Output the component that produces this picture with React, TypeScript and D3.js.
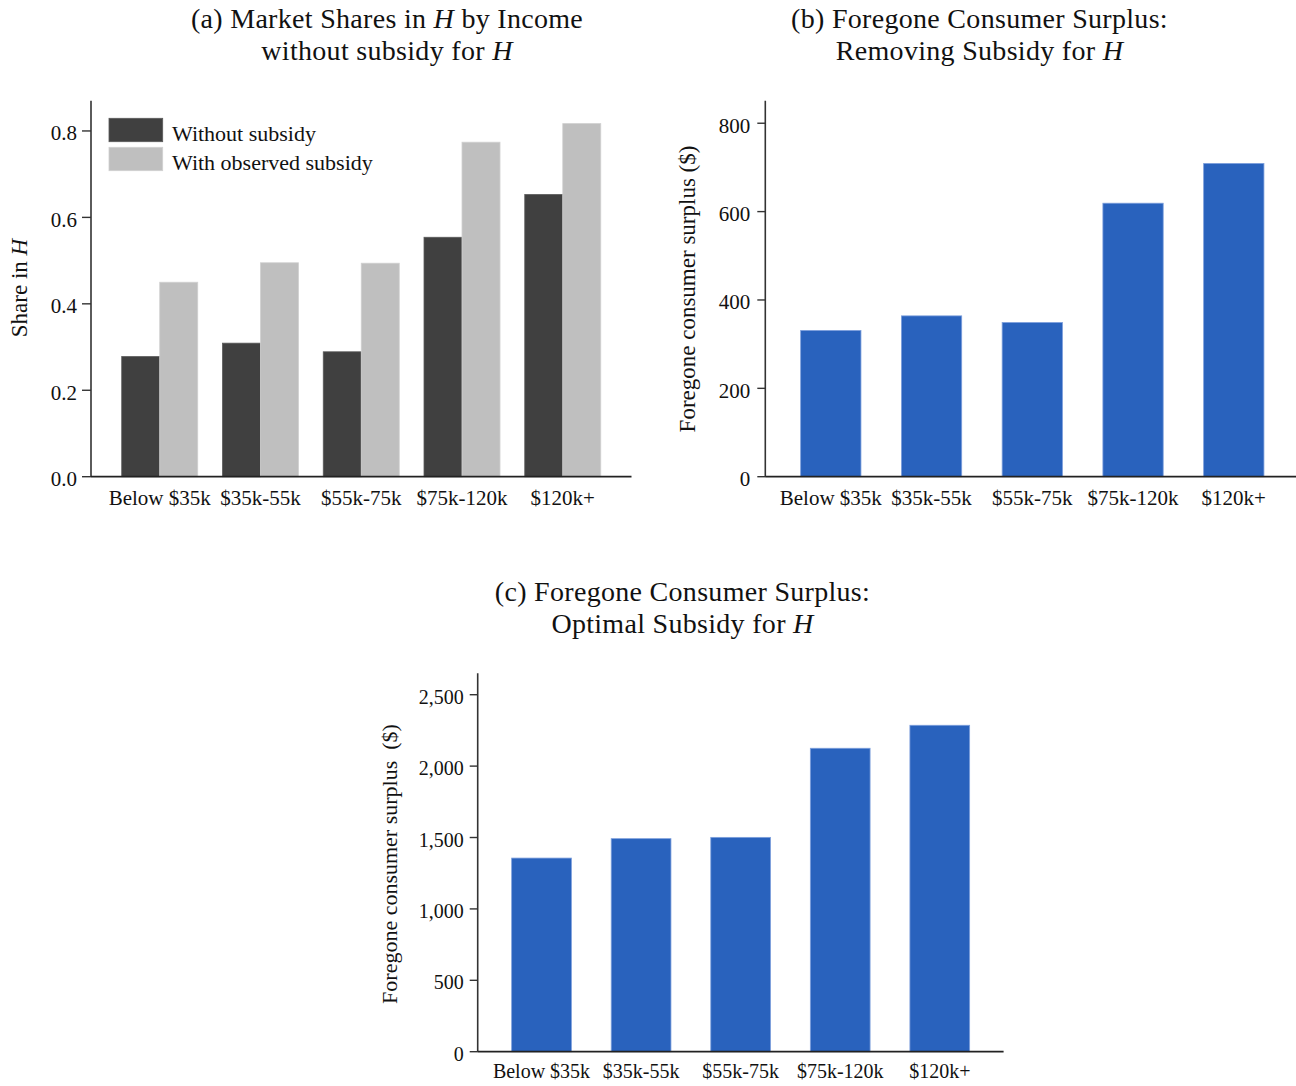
import React from "react";
import * as d3 from "d3";

const categories = ["Below $35k", "$35k-55k", "$55k-75k", "$75k-120k", "$120k+"];
const seriesNames = ["Without subsidy", "With observed subsidy"];
const shareWithout = [0.278, 0.309, 0.289, 0.554, 0.653];
const shareWith = [0.45, 0.495, 0.494, 0.774, 0.817];
const surplusRemoving = [331, 364, 349, 619, 709];
const surplusOptimal = [1356, 1492, 1501, 2125, 2286];
const ticksA = [0, 0.2, 0.4, 0.6, 0.8];
const ticksB = [0, 200, 400, 600, 800];
const ticksC = [0, 500, 1000, 1500, 2000, 2500];

const FONT = "'Liberation Serif', 'Times New Roman', serif";
const DARK = "#404040";
const LIGHT = "#bfbfbf";
const BLUE = "#2962bd";
const AXIS = "#333333";

type YAxisProps = {
  y: d3.ScaleLinear<number, number>;
  x0: number;
  ticks: number[];
  fmt: (v: number) => string;
  fontSize: number;
  tickLen: number;
  gap: number;
};

function YAxis({ y, x0, ticks, fmt, fontSize, tickLen, gap }: YAxisProps) {
  const [r0, r1] = y.range();
  return (
    <g>
      <line x1={x0} x2={x0} y1={r0} y2={r1} stroke={AXIS} strokeWidth={1.6} />
      {ticks.map((t) => (
        <g key={t}>
          <line x1={x0 - tickLen} x2={x0} y1={y(t)} y2={y(t)} stroke={AXIS} strokeWidth={1.4} />
          <text
            x={x0 - tickLen - gap}
            y={y(t)}
            dy="0.45em"
            textAnchor="end"
            fontSize={fontSize}
            fontFamily={FONT}
            fill="#111"
          >
            {fmt(t)}
          </text>
        </g>
      ))}
    </g>
  );
}

type XAxisProps = {
  x: d3.ScaleBand<string>;
  y0: number;
  fontSize: number;
  labelY: number;
};

function XAxis({ x, y0, fontSize, labelY }: XAxisProps) {
  const [r0, r1] = x.range();
  return (
    <g>
      <line x1={r0} x2={r1} y1={y0} y2={y0} stroke="#222" strokeWidth={1.8} />
      {categories.map((c) => (
        <text
          key={c}
          x={(x(c) as number) + x.bandwidth() / 2}
          y={labelY}
          textAnchor="middle"
          fontSize={fontSize}
          fontFamily={FONT}
          fill="#111"
        >
          {c}
        </text>
      ))}
    </g>
  );
}

function Title({ cx, y1, y2, line1, line2, size }: { cx: number; y1: number; y2: number; line1: React.ReactNode; line2: React.ReactNode; size: number }) {
  return (
    <g fontFamily={FONT} fontSize={size} fill="#111" textAnchor="middle" letterSpacing={0.3}>
      <text x={cx} y={y1}>{line1}</text>
      <text x={cx} y={y2}>{line2}</text>
    </g>
  );
}

function YLabel({ x, cy, size, children }: { x: number; cy: number; size: number; children: React.ReactNode }) {
  return (
    <text
      transform={`translate(${x},${cy}) rotate(-90)`}
      textAnchor="middle"
      fontSize={size}
      fontFamily={FONT}
      fill="#111"
      style={{ whiteSpace: "pre" }}
    >
      {children}
    </text>
  );
}

export default function App() {
  // Panel A
  const xA = d3.scaleBand<string>().domain(categories).range([91, 631.5]).paddingInner(0.2457).paddingOuter(0.305);
  const xAInner = d3.scaleBand<string>().domain(seriesNames).range([0, xA.bandwidth()]);
  const yA = d3.scaleLinear().domain([0, 0.87]).range([476.7, 100.7]);
  const seriesA = [shareWithout, shareWith];
  const colorsA = [DARK, LIGHT];

  // Panel B
  const xB = d3.scaleBand<string>().domain(categories).range([765.3, 1299.3]).paddingInner(0.4015).paddingOuter(0.351);
  const yB = d3.scaleLinear().domain([0, 851]).range([476.7, 100.7]);

  // Panel C
  const xC = d3.scaleBand<string>().domain(categories).range([477.7, 1003.6]).paddingInner(0.4).paddingOuter(0.341);
  const yC = d3.scaleLinear().domain([0, 2650]).range([1051.7, 673.3]);

  const fmtA = d3.format(".1f");
  const fmtB = d3.format("d");
  const fmtC = d3.format(",");

  return (
    <svg
      width={1296}
      height={1086}
      style={{ position: "absolute", left: 0, top: 0, background: "#fff" }}
    >
      {/* Titles */}
      <Title
        cx={387}
        y1={28}
        y2={60}
        size={28}
        line1={<>(a) Market Shares in <tspan fontStyle="italic">H</tspan> by Income</>}
        line2={<>without subsidy for <tspan fontStyle="italic">H</tspan></>}
      />
      <Title
        cx={979.5}
        y1={28}
        y2={60}
        size={28}
        line1={<>(b) Foregone Consumer Surplus:</>}
        line2={<>Removing Subsidy for <tspan fontStyle="italic">H</tspan></>}
      />
      <Title
        cx={682.5}
        y1={601}
        y2={633}
        size={28}
        line1={<>(c) Foregone Consumer Surplus:</>}
        line2={<>Optimal Subsidy for <tspan fontStyle="italic">H</tspan></>}
      />

      {/* Panel A */}
      <g>
        {categories.map((c, i) => (
          <g key={c} transform={`translate(${xA(c)},0)`}>
            {seriesA.map((s, j) => (
              <rect
                key={j}
                x={xAInner(seriesNames[j])}
                y={yA(s[i])}
                width={xAInner.bandwidth()}
                height={yA(0) - yA(s[i])}
                fill={colorsA[j]}
                stroke={j === 0 ? "#5a5a5a" : "#d0d0d0"}
                strokeWidth={0.8}
              />
            ))}
          </g>
        ))}
        <YAxis y={yA} x0={91} ticks={ticksA} fmt={fmtA} fontSize={21} tickLen={9} gap={5} />
        <XAxis x={xA} y0={476.7} fontSize={21} labelY={505} />
        <YLabel x={27} cy={288} size={23}>
          Share in <tspan fontStyle="italic">H</tspan>
        </YLabel>
        {/* Legend */}
        {seriesNames.map((n, j) => (
          <g key={n} transform={`translate(109,${118.3 + j * 29})`}>
            <rect width={53.7} height={23.4} fill={colorsA[j]} stroke={j === 0 ? "#5a5a5a" : "#d0d0d0"} strokeWidth={0.8} />
            <text x={63} y={23} fontSize={22} fontFamily={FONT} fill="#111">{n}</text>
          </g>
        ))}
      </g>

      {/* Panel B */}
      <g>
        {categories.map((c, i) => (
          <rect
            key={c}
            x={xB(c)}
            y={yB(surplusRemoving[i])}
            width={xB.bandwidth()}
            height={yB(0) - yB(surplusRemoving[i])}
            fill={BLUE}
            stroke="#7d9fdc"
            strokeWidth={0.8}
          />
        ))}
        <YAxis y={yB} x0={765.3} ticks={ticksB} fmt={fmtB} fontSize={21} tickLen={8} gap={7} />
        <XAxis x={xB} y0={476.7} fontSize={21} labelY={505} />
        <YLabel x={695} cy={289} size={23}>Foregone consumer surplus ($)</YLabel>
      </g>

      {/* Panel C */}
      <g>
        {categories.map((c, i) => (
          <rect
            key={c}
            x={xC(c)}
            y={yC(surplusOptimal[i])}
            width={xC.bandwidth()}
            height={yC(0) - yC(surplusOptimal[i])}
            fill={BLUE}
            stroke="#7d9fdc"
            strokeWidth={0.8}
          />
        ))}
        <YAxis y={yC} x0={477.7} ticks={ticksC} fmt={fmtC} fontSize={20} tickLen={8} gap={6} />
        <XAxis x={xC} y0={1051.7} fontSize={20} labelY={1078} />
        <YLabel x={397} cy={864} size={22}>{"Foregone consumer surplus  ($)"}</YLabel>
      </g>
    </svg>
  );
}
